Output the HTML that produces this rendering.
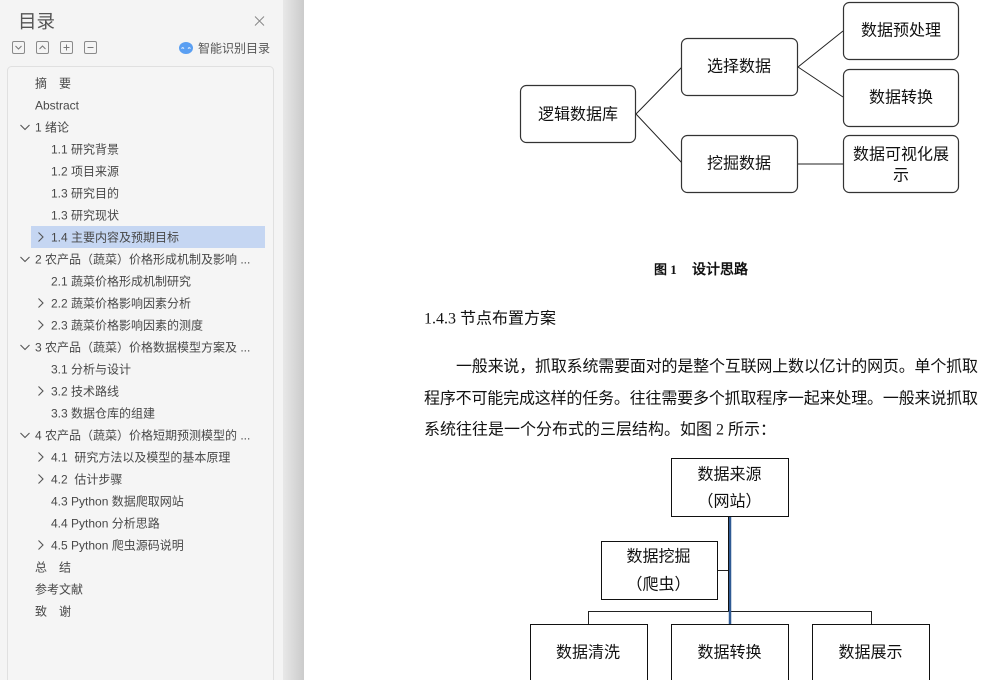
<!DOCTYPE html>
<html lang="zh-CN">
<head>
<meta charset="utf-8">
<title>目录</title>
<style>
html,body{margin:0;padding:0;width:1002px;height:680px;overflow:hidden;background:#fff}
svg{display:block}
.t{font-family:"Liberation Sans","Noto Sans CJK SC",sans-serif;font-size:12px;fill:#484848}
.s{font-family:"Liberation Serif","WenQuanYi Zen Hei",sans-serif;font-size:16px;fill:#111}
.c{text-anchor:middle}
.b{fill:#fff;stroke:#333;stroke-width:1.2}
.l{stroke:#222;stroke-width:1;fill:none}
.ch{stroke:#555;stroke-width:1.1;fill:none}
.ic{fill:none;stroke:#8a8a8a;stroke-width:1}
.ig{fill:none;stroke:#777;stroke-width:1}
</style>
</head>
<body>
<svg width="1002" height="680" viewBox="0 0 1002 680" xmlns="http://www.w3.org/2000/svg">
<defs>
<linearGradient id="g" x1="0" x2="1" y1="0" y2="0">
<stop offset="0" stop-color="#e8e8e8"/>
<stop offset="1" stop-color="#cbcbcb"/>
</linearGradient>
</defs>
<rect x="0" y="0" width="283" height="680" fill="#f4f4f4"/>
<rect x="283" y="0" width="21" height="680" fill="url(#g)"/>

<text x="18" y="28" class="t" style="font-size:18.5px;fill:#555">目录</text>
<path d="M255 16.5L264 25.5M264 16.5L255 25.5" stroke="#888" stroke-width="1" fill="none"/>

<rect x="12.5" y="41.5" width="12" height="12" rx="1.5" class="ic"/>
<path d="M15.5 46L18.5 49L21.5 46" class="ig" stroke="#999"/>
<rect x="36.5" y="41.5" width="12" height="12" rx="1.5" class="ic"/>
<path d="M39.5 49L42.5 46L45.5 49" class="ig"/>
<rect x="60.5" y="41.5" width="12" height="12" rx="1.5" class="ic"/>
<path d="M63.5 47.5H69.5M66.5 44.5V50.5" class="ig"/>
<rect x="84.5" y="41.5" width="12" height="12" rx="1.5" class="ic"/>
<path d="M87.5 47.5H93.5" class="ig"/>

<ellipse cx="186" cy="48" rx="7" ry="6" fill="#5a9ff2"/>
<path d="M181.5 48.5Q182.7 47 184 48.5M188 48.5Q189.3 47 190.5 48.5" stroke="#fff" stroke-width="1" fill="none"/>
<text x="198" y="52.500" class="t" style="fill:#555">智能识别目录</text>

<rect x="7.500" y="66.500" width="266" height="630" rx="4" fill="#f5f5f5" stroke="#e0e0e0"/>
<rect x="31" y="226" width="234" height="22" fill="#c5d6f2"/>

<text x="35" y="87.500" class="t">摘　要</text>
<text x="35" y="109.500" class="t">Abstract</text>
<path d="M20.500 125L25 129.500L29.500 125" class="ch"/>
<text x="35" y="131.500" class="t">1 绪论</text>
<text x="51" y="153.500" class="t">1.1 研究背景</text>
<text x="51" y="175.500" class="t">1.2 项目来源</text>
<text x="51" y="197.500" class="t">1.3 研究目的</text>
<text x="51" y="219.500" class="t">1.3 研究现状</text>
<path d="M38.500 232.500L43 237L38.500 241.500" class="ch"/>
<text x="51" y="241.500" class="t">1.4 主要内容及预期目标</text>
<path d="M20.500 257L25 261.500L29.500 257" class="ch"/>
<text x="35" y="263.500" class="t">2 农产品（蔬菜）价格形成机制及影响 ...</text>
<text x="51" y="285.500" class="t">2.1 蔬菜价格形成机制研究</text>
<path d="M38.500 298.500L43 303L38.500 307.500" class="ch"/>
<text x="51" y="307.500" class="t">2.2 蔬菜价格影响因素分析</text>
<path d="M38.500 320.500L43 325L38.500 329.500" class="ch"/>
<text x="51" y="329.500" class="t">2.3 蔬菜价格影响因素的测度</text>
<path d="M20.500 345L25 349.500L29.500 345" class="ch"/>
<text x="35" y="351.500" class="t">3 农产品（蔬菜）价格数据模型方案及 ...</text>
<text x="51" y="373.500" class="t">3.1 分析与设计</text>
<path d="M38.500 386.500L43 391L38.500 395.500" class="ch"/>
<text x="51" y="395.500" class="t">3.2 技术路线</text>
<text x="51" y="417.500" class="t">3.3 数据仓库的组建</text>
<path d="M20.500 433L25 437.500L29.500 433" class="ch"/>
<text x="35" y="439.500" class="t">4 农产品（蔬菜）价格短期预测模型的 ...</text>
<path d="M38.500 452.500L43 457L38.500 461.500" class="ch"/>
<text x="51" y="461.500" class="t" xml:space="preserve">4.1  研究方法以及模型的基本原理</text>
<path d="M38.500 474.500L43 479L38.500 483.500" class="ch"/>
<text x="51" y="483.500" class="t" xml:space="preserve">4.2  估计步骤</text>
<text x="51" y="505.500" class="t">4.3 Python 数据爬取网站</text>
<text x="51" y="527.500" class="t">4.4 Python 分析思路</text>
<path d="M38.500 540.500L43 545L38.500 549.500" class="ch"/>
<text x="51" y="549.500" class="t">4.5 Python 爬虫源码说明</text>
<text x="35" y="571.500" class="t">总　结</text>
<text x="35" y="593.500" class="t">参考文献</text>
<text x="35" y="615.500" class="t">致　谢</text>

<!-- Diagram 1 -->
<path d="M636 114L682 67M636 114L682 163M798 67L843 31M798 67L843 97M798 164H843" class="l"/>
<rect x="520.500" y="85.500" width="115" height="57" rx="6" class="b"/>
<rect x="681.500" y="38.500" width="116" height="57" rx="6" class="b"/>
<rect x="681.500" y="135.500" width="116" height="57" rx="6" class="b"/>
<rect x="843.500" y="2.500" width="115" height="57" rx="6" class="b"/>
<rect x="843.500" y="69.500" width="115" height="57" rx="6" class="b"/>
<rect x="843.500" y="135.500" width="115" height="57" rx="6" class="b"/>
<text x="578" y="119.500" class="s c">逻辑数据库</text>
<text x="739" y="71.500" class="s c">选择数据</text>
<text x="739" y="168.500" class="s c">挖掘数据</text>
<text x="901" y="35.500" class="s c">数据预处理</text>
<text x="901" y="102.500" class="s c">数据转换</text>
<text x="901" y="159.500" class="s c">数据可视化展</text>
<text x="901" y="180.500" class="s c">示</text>

<text x="654" y="274" class="s" style="font-size:13px;font-weight:700">图 1</text>
<text x="692" y="274" class="s" style="font-size:14px;font-weight:700">设计思路</text>
<text x="424" y="323.500" class="s">1.4.3 节点布置方案</text>
<text x="456" y="371.500" class="s" textLength="522" lengthAdjust="spacing">一般来说，抓取系统需要面对的是整个互联网上数以亿计的网页。单个抓取</text>
<text x="424" y="403.500" class="s" textLength="554" lengthAdjust="spacing">程序不可能完成这样的任务。往往需要多个抓取程序一起来处理。一般来说抓取</text>
<text x="424" y="434.500" class="s">系统往往是一个分布式的三层结构。如图 2 所示：</text>

<!-- Diagram 2 -->
<path d="M717 570.500H729M588.500 624V611.500H871.500V624" class="l"/>
<path d="M730 516V624" stroke="#2f5a94" stroke-width="2.500" fill="none"/>
<path d="M728.500 516V611" stroke="#111" stroke-width="1" fill="none"/>
<rect x="671.500" y="458.500" width="117" height="58" fill="#fff" stroke="#111"/>
<rect x="601.500" y="541.500" width="116" height="58" fill="#fff" stroke="#111"/>
<rect x="530.500" y="624.500" width="117" height="70" fill="#fff" stroke="#111"/>
<rect x="671.500" y="624.500" width="117" height="70" fill="#fff" stroke="#111"/>
<rect x="812.500" y="624.500" width="117" height="70" fill="#fff" stroke="#111"/>
<text x="729.500" y="479.500" class="s c">数据来源</text>
<text x="729.500" y="506.500" class="s c">（网站）</text>
<text x="658.500" y="561.500" class="s c">数据挖掘</text>
<text x="658.500" y="589.500" class="s c">（爬虫）</text>
<text x="588" y="657.500" class="s c">数据清洗</text>
<text x="729.500" y="657.500" class="s c">数据转换</text>
<text x="870.500" y="657.500" class="s c">数据展示</text>
</svg>
</body>
</html>
